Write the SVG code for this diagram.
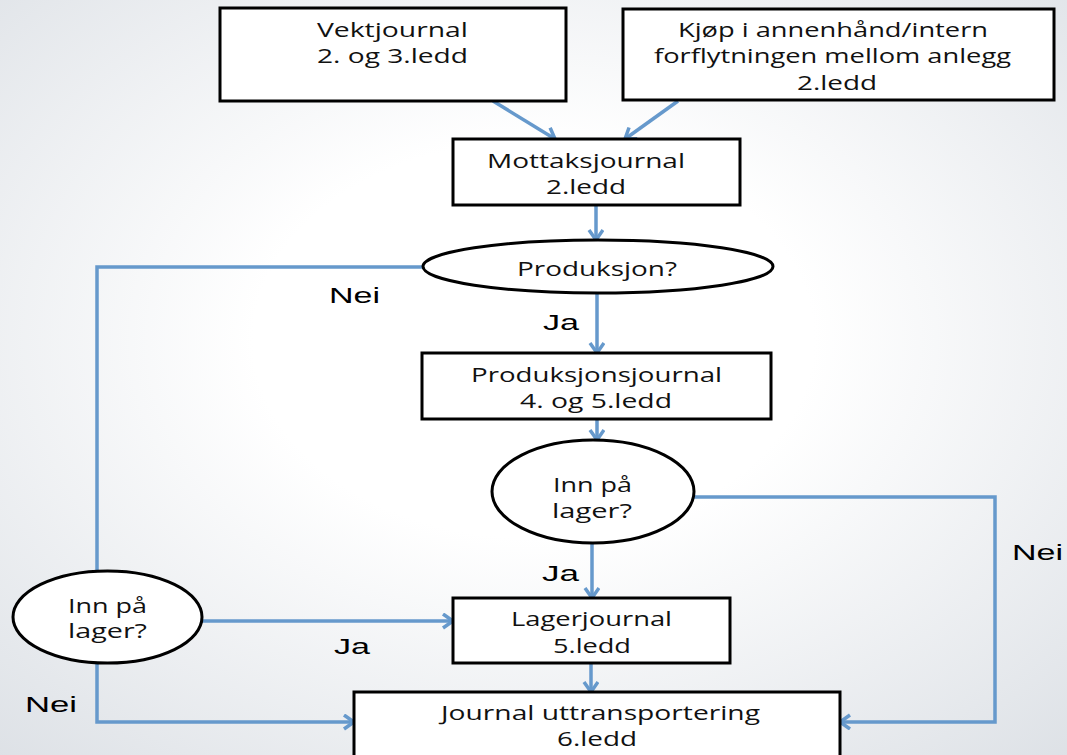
<svg xmlns="http://www.w3.org/2000/svg" width="1067" height="755" viewBox="0 0 1067 755">
<style>
.box{fill:#fff;stroke:#000;stroke-width:3}
.t{font-family:"Open Sans","DejaVu Sans",sans-serif;font-size:20px;fill:#111}
.l{font-family:"Liberation Sans",Arial,sans-serif;font-size:22px;fill:#000}
.c{fill:none;stroke:#6699cc;stroke-width:3.5;stroke-linejoin:miter}
</style>
<defs>
<radialGradient id="bg" cx="50%" cy="45%" r="75%">
<stop offset="0.35" stop-color="#ffffff"/>
<stop offset="1" stop-color="#dde1e6"/>
</radialGradient>
<marker id="ah" markerUnits="userSpaceOnUse" markerWidth="20" markerHeight="20" refX="12" refY="8" orient="auto">
<path d="M2,1 L12,8 L2,15" fill="none" stroke="#6699cc" stroke-width="3.5"/>
</marker>
</defs>
<rect width="1067" height="755" fill="url(#bg)"/>
<g id="connectors">
<line class="c" x1="493" y1="101" x2="555" y2="139" marker-end="url(#ah)"/>
<line class="c" x1="678" y1="101" x2="625" y2="139" marker-end="url(#ah)"/>
<line class="c" x1="596" y1="205" x2="596" y2="240" marker-end="url(#ah)"/>
<line class="c" x1="597" y1="293" x2="597" y2="353" marker-end="url(#ah)"/>
<polyline class="c" points="423,267 97,267 97,571"/>
<line class="c" x1="597" y1="419" x2="597" y2="440" marker-end="url(#ah)"/>
<line class="c" x1="592" y1="543" x2="592" y2="598" marker-end="url(#ah)"/>
<polyline class="c" points="694,497 995,497 995,722 840,722" marker-end="url(#ah)"/>
<line class="c" x1="591" y1="663" x2="591" y2="692" marker-end="url(#ah)"/>
<line class="c" x1="202" y1="621" x2="453" y2="621" marker-end="url(#ah)"/>
<polyline class="c" points="97,663 97,722 354,722" marker-end="url(#ah)"/>
</g>
<g id="vektjournal">
<rect class="box" x="220" y="8" width="346" height="93"/>
<text class="t" x="317" y="37" textLength="151" lengthAdjust="spacingAndGlyphs">Vektjournal</text>
<text class="t" x="317" y="63" textLength="151" lengthAdjust="spacingAndGlyphs">2. og 3.ledd</text>
</g>
<g id="kjop">
<rect class="box" x="623" y="9" width="431" height="91"/>
<text class="t" x="678" y="37" textLength="310" lengthAdjust="spacingAndGlyphs">Kjøp i annenhånd/intern</text>
<text class="t" x="654" y="63" textLength="357" lengthAdjust="spacingAndGlyphs">forflytningen mellom anlegg</text>
<text class="t" x="797" y="90" textLength="80" lengthAdjust="spacingAndGlyphs">2.ledd</text>
</g>
<g id="mottaksjournal">
<rect class="box" x="453" y="139" width="287" height="66"/>
<text class="t" x="487" y="168" textLength="198" lengthAdjust="spacingAndGlyphs">Mottaksjournal</text>
<text class="t" x="546" y="194" textLength="80" lengthAdjust="spacingAndGlyphs">2.ledd</text>
</g>
<g id="produksjon">
<ellipse class="box" cx="598" cy="266.5" rx="175" ry="26.5"/>
<text class="t" x="517" y="276" textLength="160" lengthAdjust="spacingAndGlyphs">Produksjon?</text>
</g>
<g id="produksjonsjournal">
<rect class="box" x="422" y="353" width="349" height="66"/>
<text class="t" x="471" y="382" textLength="251" lengthAdjust="spacingAndGlyphs">Produksjonsjournal</text>
<text class="t" x="520" y="408" textLength="152" lengthAdjust="spacingAndGlyphs">4. og 5.ledd</text>
</g>
<g id="lager-mid">
<ellipse class="box" cx="593" cy="491.5" rx="101" ry="51.5"/>
<text class="t" x="553" y="492" textLength="79" lengthAdjust="spacingAndGlyphs">Inn på</text>
<text class="t" x="552" y="518" textLength="80" lengthAdjust="spacingAndGlyphs">lager?</text>
</g>
<g id="lagerjournal">
<rect class="box" x="453" y="598" width="277" height="65"/>
<text class="t" x="511" y="626" textLength="161" lengthAdjust="spacingAndGlyphs">Lagerjournal</text>
<text class="t" x="553" y="653" textLength="78" lengthAdjust="spacingAndGlyphs">5.ledd</text>
</g>
<g id="lager-left">
<ellipse class="box" cx="107.5" cy="617" rx="94.5" ry="46"/>
<text class="t" x="68" y="613" textLength="79" lengthAdjust="spacingAndGlyphs">Inn på</text>
<text class="t" x="68" y="638" textLength="79" lengthAdjust="spacingAndGlyphs">lager?</text>
</g>
<g id="uttransport">
<rect class="box" x="354" y="692" width="486" height="70"/>
<text class="t" x="441" y="720" textLength="319" lengthAdjust="spacingAndGlyphs">Journal uttransportering</text>
<text class="t" x="557" y="746" textLength="80" lengthAdjust="spacingAndGlyphs">6.ledd</text>
</g>
<g id="labels">
<text class="l" x="329" y="303" textLength="51" lengthAdjust="spacingAndGlyphs">Nei</text>
<text class="l" x="543" y="330" textLength="36" lengthAdjust="spacingAndGlyphs">Ja</text>
<text class="l" x="542" y="581" textLength="37" lengthAdjust="spacingAndGlyphs">Ja</text>
<text class="l" x="1012" y="560" textLength="51" lengthAdjust="spacingAndGlyphs">Nei</text>
<text class="l" x="334" y="654" textLength="36" lengthAdjust="spacingAndGlyphs">Ja</text>
<text class="l" x="25" y="712" textLength="52" lengthAdjust="spacingAndGlyphs">Nei</text>
</g>
</svg>
